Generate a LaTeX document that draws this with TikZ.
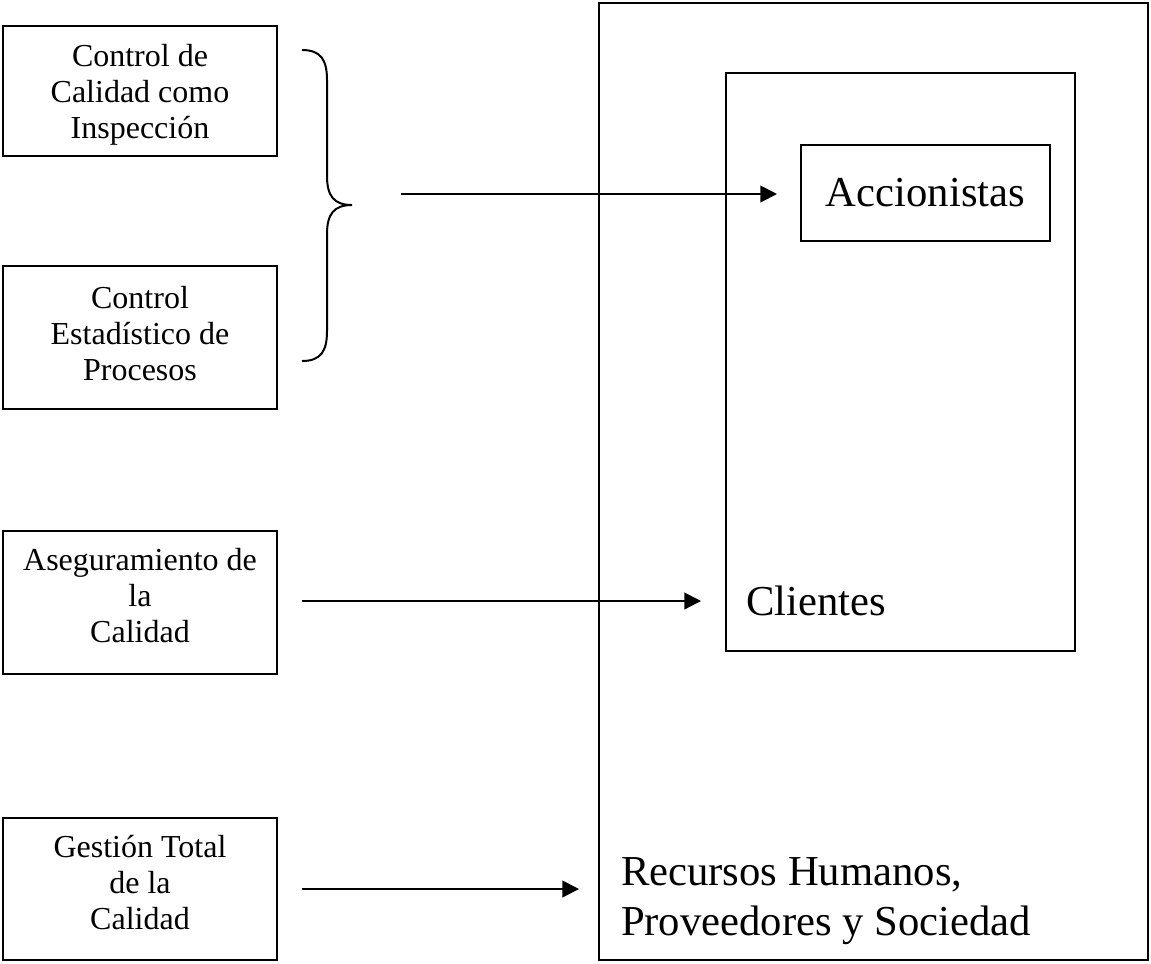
\documentclass[tikz,border=0pt]{standalone}
\usepackage{fontspec}
\setmainfont{Liberation Serif}
\usetikzlibrary{arrows.meta}
\begin{document}
\begin{tikzpicture}[x=0.375pt,y=-0.375pt,
  line width=0.75pt,
  leftbox/.style={draw, rectangle, minimum width=274*0.375pt, inner sep=0pt},
  boxtext/.style={inner sep=0pt, align=center, font=\fontsize{12}{13.5}\selectfont},
  plainbox/.style={draw, rectangle, inner sep=0pt},
  bigtext/.style={font=\fontsize{16}{18.75}\selectfont, inner sep=0pt, align=left},
  arr/.style={-{Triangle[length=6.2pt,width=6.2pt]}}]
\useasboundingbox (0,0) rectangle (1151,963);
% left boxes
\node[leftbox, minimum height=130*0.375pt] (cci) at (140,91) {};
\node[leftbox, minimum height=143*0.375pt] (cep) at (140,337.5) {};
\node[leftbox, minimum height=143*0.375pt] (asc) at (140,602.5) {};
\node[leftbox, minimum height=142*0.375pt] (gtc) at (140,889) {};
\node[boxtext] (tcci) at ([yshift=-4*0.375pt]cci.center) {Control de\\Calidad como\\Inspección};
\node[boxtext] (tcep) at ([yshift=4*0.375pt]cep.center) {Control\\Estadístico de\\Procesos};
\node[boxtext] (tasc) at ([yshift=7*0.375pt]asc.center) {Aseguramiento de\\la\\Calidad};
\node[boxtext] (tgtc) at ([yshift=6*0.375pt]gtc.center) {Gestión Total\\de la\\Calidad};
% right boxes
\node[plainbox, minimum width=549*0.375pt, minimum height=957*0.375pt] (outer) at (873.5,481.5) {};
\node[plainbox, minimum width=349*0.375pt, minimum height=578*0.375pt] (inner) at (900.5,362) {};
\node[plainbox, minimum width=249*0.375pt, minimum height=96*0.375pt, bigtext] (acc) at (925.5,193) {Accionistas};
\node[bigtext, anchor=base west] (cli) at (745,615) {Clientes};
\node[bigtext, anchor=base west] (rec1) at (620,885) {Recursos Humanos,};
\node[bigtext, anchor=base west] (rec2) at (620,935) {Proveedores y Sociedad};
% brace
\draw (302,50) .. controls (321,50) and (327,60) .. (327,80)
  -- (327,176) .. controls (327,196) and (334,205) .. (352,205)
  .. controls (334,205) and (327,214) .. (327,234)
  -- (327,331) .. controls (327,351) and (321,361) .. (302,361);
% arrows
\coordinate (a1s) at (401,194);
\coordinate (a1e) at (777,194);
\coordinate (a2s) at (302,601);
\coordinate (a2e) at (701,601);
\coordinate (a3s) at (302,889);
\coordinate (a3e) at (579,889);
\draw[arr] (a1s) -- (a1e);
\draw[arr] (a2s) -- (a2e);
\draw[arr] (a3s) -- (a3e);
\end{tikzpicture}
\end{document}
